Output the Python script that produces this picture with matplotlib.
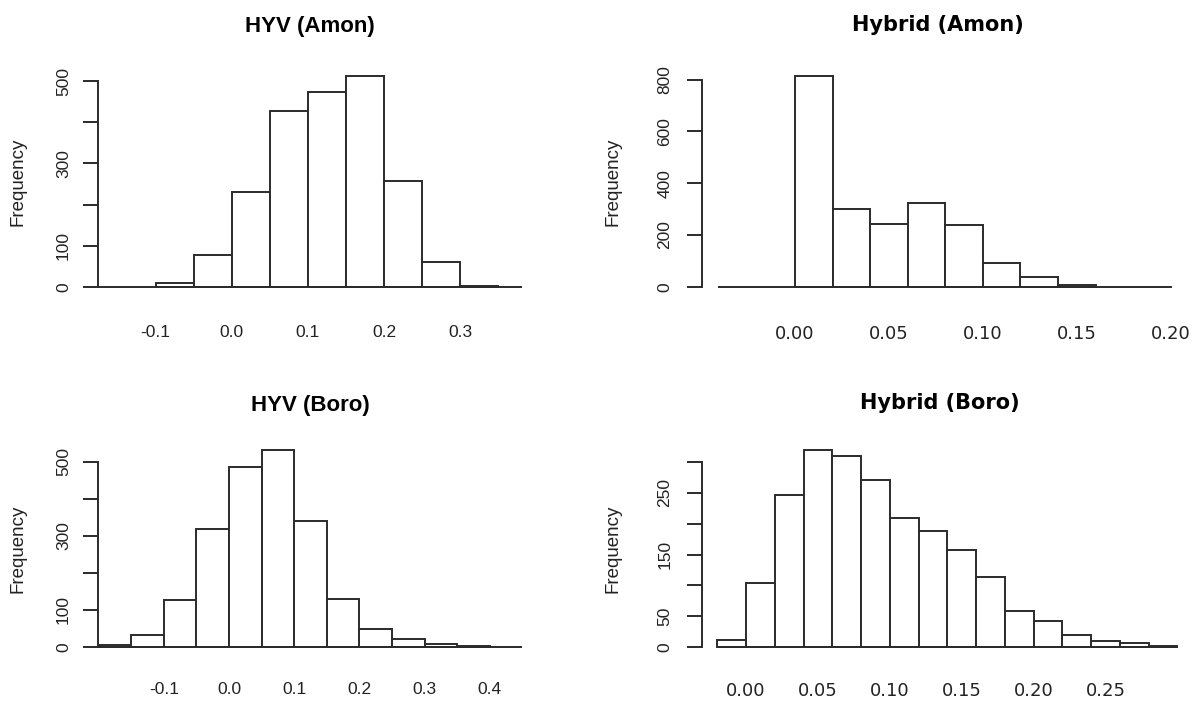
import numpy as np
import matplotlib.pyplot as plt

W, H = 1202, 704

# histogram data (bin edges + counts)
hyv_amon_breaks = [-0.10, -0.05, 0.00, 0.05, 0.10, 0.15, 0.20, 0.25, 0.30, 0.35]
hyv_amon_counts = [10, 78, 230, 427, 473, 513, 257, 60, 2]

hybrid_amon_breaks = [0.00, 0.02, 0.04, 0.06, 0.08, 0.10, 0.12, 0.14, 0.16]
hybrid_amon_counts = [814, 299, 244, 322, 237, 90, 36, 8]

hyv_boro_breaks = [-0.20, -0.15, -0.10, -0.05, 0.00, 0.05, 0.10, 0.15, 0.20,
                   0.25, 0.30, 0.35, 0.40]
hyv_boro_counts = [5, 32, 126, 318, 487, 532, 340, 129, 50, 22, 7, 3]

hybrid_boro_breaks = [-0.02, 0.00, 0.02, 0.04, 0.06, 0.08, 0.10, 0.12, 0.14,
                      0.16, 0.18, 0.20, 0.22, 0.24, 0.26, 0.28, 0.30]
hybrid_boro_counts = [11, 104, 246, 319, 310, 271, 210, 188, 158, 114, 58, 42,
                      19, 9, 6, 2]

titles = ['HYV (Amon)', 'Hybrid (Amon)', 'HYV (Boro)', 'Hybrid (Boro)']

hyv_amon_xticks = [-0.1, 0.0, 0.1, 0.2, 0.3]
hybrid_amon_xticks = [0.00, 0.05, 0.10, 0.15, 0.20]
hyv_boro_xticks = [-0.1, 0.0, 0.1, 0.2, 0.3, 0.4]
hybrid_boro_xticks = [0.00, 0.05, 0.10, 0.15, 0.20, 0.25]

hyv_amon_yticks = [0, 100, 200, 300, 400, 500]
hyv_amon_ylabels = ['0', '100', '', '300', '', '500']
hybrid_amon_yticks = [0, 200, 400, 600, 800]
hybrid_amon_ylabels = ['0', '200', '400', '600', '800']
hyv_boro_yticks = [0, 100, 200, 300, 400, 500]
hyv_boro_ylabels = ['0', '100', '', '300', '', '500']
hybrid_boro_yticks = [0, 50, 100, 150, 200, 250, 300]
hybrid_boro_ylabels = ['0', '50', '', '150', '', '250', '']

LEFT_FONT = 'Liberation Sans'
RIGHT_FONT = 'DejaVu Sans'   # wider glyphs, the right half of the picture is stretched
EDGE = '#2b2b2b'
TXT = '#222222'

# layout in pixels: plot box left/right, xlim, baseline span, y of zero,
# one reference tick (value, pixel), y top value, title baseline, label centre, xlabel pad
panels = [
    dict(breaks=hyv_amon_breaks, counts=hyv_amon_counts, title=titles[0],
         xticks=hyv_amon_xticks, xfmt='{:.1f}', yticks=hyv_amon_yticks, ylabels=hyv_amon_ylabels,
         left=98.3, right=521.7, xlim=(-0.1754, 0.381), base=(-0.1754, 0.381),
         y0=286.7, yref=(500, 81.3), ytop=540, tbase=31.7, lab=(18, 181.7),
         xpad=38, font=LEFT_FONT, tsize=16, xsize=12.5, ypad=12),
    dict(breaks=hybrid_amon_breaks, counts=hybrid_amon_counts, title=titles[1],
         xticks=hybrid_amon_xticks, xfmt='{:.2f}', yticks=hybrid_amon_yticks, ylabels=hybrid_amon_ylabels,
         left=701.7, right=1174.0, xlim=(-0.0496, 0.2017), base=(-0.0408, 0.2005),
         y0=286.7, yref=(800, 79.7), ytop=850, tbase=30.7, lab=(613, 181.7),
         xpad=38, font=RIGHT_FONT, tsize=15, xsize=13, ypad=14),
    dict(breaks=hyv_boro_breaks, counts=hyv_boro_counts, title=titles[2],
         xticks=hyv_boro_xticks, xfmt='{:.1f}', yticks=hyv_boro_yticks, ylabels=hyv_boro_ylabels,
         left=98.3, right=521.7, xlim=(-0.2005, 0.449), base=(-0.2005, 0.449),
         y0=647.0, yref=(500, 462.0), ytop=560, tbase=410.7, lab=(18, 549),
         xpad=34.7, font=LEFT_FONT, tsize=16, xsize=12.5, ypad=12),
    dict(breaks=hybrid_boro_breaks, counts=hybrid_boro_counts, title=titles[3],
         xticks=hybrid_boro_xticks, xfmt='{:.2f}', yticks=hybrid_boro_yticks, ylabels=hybrid_boro_ylabels,
         left=701.7, right=1178.3, xlim=(-0.0309, 0.3007), base=(-0.02, 0.30),
         y0=647.0, yref=(300, 462.0), ytop=330, tbase=409.3, lab=(613, 549),
         xpad=34.7, font=RIGHT_FONT, tsize=15, xsize=13, ypad=14),
]

fig = plt.figure(figsize=(W / 100, H / 100), dpi=100)
fig.patch.set_facecolor('white')

for p in panels:
    ppu = (p['y0'] - p['yref'][1]) / p['yref'][0]   # pixels per count
    top_px = p['y0'] - p['ytop'] * ppu
    ax = fig.add_axes([p['left'] / W, 1 - p['y0'] / H,
                       (p['right'] - p['left']) / W, (p['y0'] - top_px) / H])
    ax.set_xlim(*p['xlim'])
    ax.set_ylim(0, p['ytop'])

    br = np.array(p['breaks'])
    ax.bar(br[:-1], p['counts'], width=np.diff(br), align='edge', color='white',
           edgecolor=EDGE, linewidth=1.4, clip_on=False, zorder=2)
    ax.hlines(0, p['base'][0], p['base'][1], color=EDGE, linewidth=1.4, clip_on=False, zorder=3)

    for s in ['top', 'right', 'bottom']:
        ax.spines[s].set_visible(False)
    ax.spines['left'].set_bounds(p['yticks'][0], p['yticks'][-1])
    ax.spines['left'].set_color(EDGE)
    ax.spines['left'].set_linewidth(1.4)

    ax.set_yticks(p['yticks'], p['ylabels'], rotation=90, va='center',
                  family=LEFT_FONT, fontsize=12.5, color=TXT)
    ax.tick_params(axis='y', length=11, width=1.4, color=EDGE, pad=p['ypad'] * 0.72)

    ax.set_xticks(p['xticks'], [p['xfmt'].format(v) for v in p['xticks']],
                  family=p['font'], fontsize=p['xsize'], color=TXT)
    ax.tick_params(axis='x', length=0, pad=p['xpad'] * 0.72)

    ax.set_title(p['title'], family=p['font'], fontweight='bold', fontsize=p['tsize'],
                 color='black', pad=(top_px - p['tbase']) * 0.72)

    ax.set_ylabel('Frequency', family=LEFT_FONT, fontsize=13.5, color=TXT, va='center')
    lx = (p['lab'][0] - p['left']) / (p['right'] - p['left'])
    ly = (p['y0'] - p['lab'][1]) / (p['y0'] - top_px)
    ax.yaxis.set_label_coords(lx, ly)
    ax.patch.set_alpha(0)

fig.savefig('out.png', dpi=100)
